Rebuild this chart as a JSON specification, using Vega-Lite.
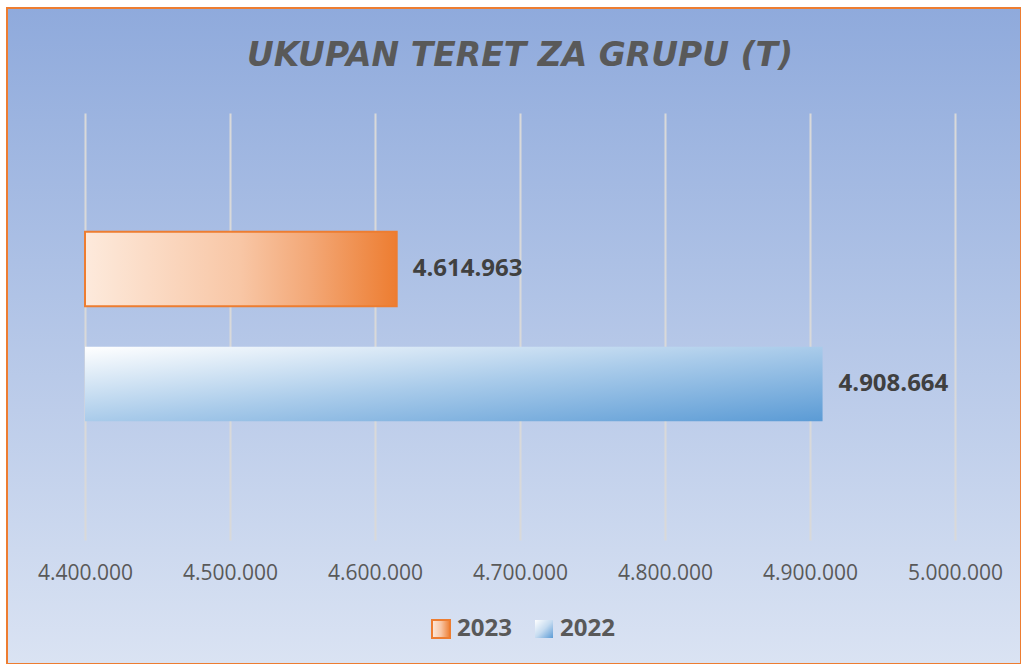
{
  "$schema": "https://vega.github.io/schema/vega-lite/v6.json",
  "width": 1014,
  "height": 656,
  "autosize": {"type": "none"},
  "padding": {"left": 7, "top": 8, "right": 0, "bottom": 0},
  "background": "white",
  "view": {
    "fill": {"gradient": "linear", "x1": 0, "y1": 0, "x2": 0, "y2": 1,
      "stops": [{"offset": 0, "color": "#8FAADC"}, {"offset": 1, "color": "#DAE3F3"}]},
    "stroke": "#ED7D31",
    "strokeWidth": 2
  },
  "title": {
    "text": "UKUPAN TERET ZA GRUPU (T)",
    "font": "DejaVu Sans",
    "fontSize": 33,
    "fontStyle": "italic",
    "fontWeight": "bold",
    "color": "#595959",
    "anchor": "middle",
    "frame": "group",
    "baseline": "alphabetic",
    "offset": -91,
    "dx": 6
  },
  "data": {"values": [
    {"year": "2023", "value": 4614963},
    {"year": "2022", "value": 4908664}
  ]},
  "encoding": {
    "y": {"field": "year", "type": "nominal", "axis": null,
      "scale": {"domain": ["2023", "2022"], "range": [124, 551], "paddingInner": 0, "paddingOuter": 0.8565, "align": 0.404}},
    "x": {"field": "value", "type": "quantitative",
      "scale": {"domain": [4400000, 5000000], "range": [78, 948], "nice": false, "zero": false},
      "axis": {
        "values": [4400000, 4500000, 4600000, 4700000, 4800000, 4900000, 5000000],
        "format": ",d",
        "title": null,
        "domain": false,
        "ticks": false,
        "tickSize": 0,
        "labelPadding": 0,
        "offset": -102,
        "labelFont": "Open Sans",
        "labelFontSize": 21,
        "labelColor": "#595959",
        "labelFlush": false,
        "labelOverlap": false,
        "grid": true,
        "gridColor": "#D9D9D9",
        "gridWidth": 2,
        "gridOpacity": 1
      }}
  },
  "layer": [
    {
      "mark": {"type": "bar", "strokeWidth": 2, "height": {"band": 0.648}},
      "encoding": {
        "x2": {"datum": 4400000},
        "fill": {
          "condition": {"test": "datum.year === '2023' || datum.value === '2023' || datum.label === '2023'", "value":
            {"gradient": "linear", "x1": 0, "y1": 0, "x2": 1, "y2": 0,
              "stops": [{"offset": 0, "color": "#FDEADC"}, {"offset": 0.5, "color": "#F8C6A5"}, {"offset": 0.72, "color": "#F3A877"}, {"offset": 1, "color": "#ED7D31"}]}},
          "value": {"gradient": "linear", "x1": 0, "y1": 0, "x2": 1, "y2": 1,
              "stops": [{"offset": 0, "color": "#FFFFFF"}, {"offset": 0.5, "color": "#A9CBEA"}, {"offset": 1, "color": "#5B9BD5"}]}
        },
        "stroke": {"field": "year", "type": "nominal",
          "scale": {"domain": ["2023", "2022"], "range": ["#ED7D31", "rgba(0,0,0,0)"]},
          "legend": {
            "encoding": {
              "symbols": {
                "fill": {
                  "condition": {"test": "datum.value === '2023'", "value": {"gradient": "linear", "x1": 0, "y1": 0, "x2": 1, "y2": 0,
                    "stops": [{"offset": 0, "color": "#FDEADC"}, {"offset": 0.5, "color": "#F8C6A5"}, {"offset": 1, "color": "#ED7D31"}]}},
                  "value": {"gradient": "linear", "x1": 0, "y1": 0, "x2": 1, "y2": 1,
                    "stops": [{"offset": 0, "color": "#FFFFFF"}, {"offset": 0.5, "color": "#C5DBF0"}, {"offset": 1, "color": "#5B9BD5"}]}
                },
                "opacity": {"value": 1}
              }
            }
          }}
      }
    },
    {
      "mark": {"type": "text", "align": "left", "baseline": "middle", "dx": 16,
        "font": "Open Sans", "fontSize": 24, "fontWeight": "bold", "color": "#404040"},
      "encoding": {
        "text": {"field": "value", "type": "quantitative", "format": ",d"}
      }
    }
  ],
  "config": {
    "locale": {"number": {"decimal": ",", "thousands": ".", "grouping": [3], "currency": ["", ""]}},
    "legend": {
      "orient": "none",
      "legendX": 422,
      "legendY": 609,
      "direction": "horizontal",
      "title": null,
      "padding": 0,
      "symbolType": "square",
      "symbolSize": 324,
      "symbolStrokeWidth": 2,
      "labelFont": "Open Sans",
      "labelFontSize": 24,
      "labelFontWeight": "bold",
      "labelColor": "#595959",
      "labelOffset": 4,
      "columnPadding": 19
    }
  }
}
